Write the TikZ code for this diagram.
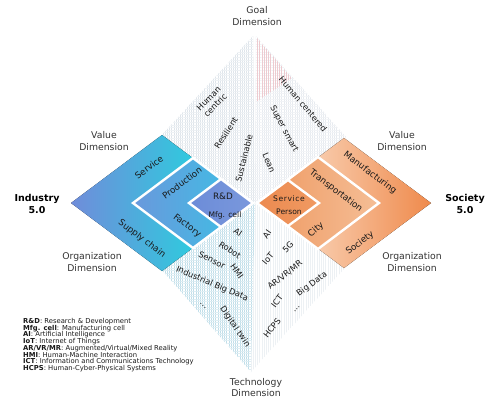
\documentclass[tikz,border=0pt]{standalone}
\usepackage{fontspec}
\setmainfont{DejaVu Sans}
\usetikzlibrary{patterns.meta}
\definecolor{hatchgray}{RGB}{175,190,205}
\definecolor{hatchblue}{RGB}{140,195,215}
\definecolor{hatchred}{RGB}{215,140,150}
\definecolor{bOutL}{RGB}{112,140,218}
\definecolor{bOutR}{RGB}{16,232,224}
\definecolor{bMidL}{RGB}{106,152,220}
\definecolor{bMidR}{RGB}{56,196,230}
\definecolor{bInL}{RGB}{108,140,216}
\definecolor{bInR}{RGB}{122,152,220}
\definecolor{oOutL}{RGB}{253,236,220}
\definecolor{oOutR}{RGB}{239,138,76}
\definecolor{oMidL}{RGB}{238,152,96}
\definecolor{oMidR}{RGB}{245,190,150}
\definecolor{oInL}{RGB}{236,138,80}
\definecolor{oInR}{RGB}{240,154,98}
\begin{document}
\begin{tikzpicture}[x=1pt,y=-1pt,
  dimlbl/.style={font=\fontsize{9.3}{11.8}\selectfont, text=black!80, inner sep=0pt, align=center},
  biglbl/.style={font=\bfseries\fontsize{9.5}{12}\selectfont, text=black, inner sep=0pt, align=center},
  shplbl/.style={font=\fontsize{8.8}{10}\selectfont, text=black!90, inner sep=0pt, align=center},
  smllbl/.style={font=\fontsize{7.6}{13}\selectfont, text=black!90, inner sep=0pt},
  techlbl/.style={font=\fontsize{8.3}{9.5}\selectfont, text=black!90, inner sep=0pt, align=center},
  hatchV/.style={pattern={Lines[angle=90,distance=2.2pt,line width=0.3pt]}, pattern color=#1},
  hatchH/.style={pattern={Lines[angle=0,distance=2.6pt,line width=0.2pt]}, pattern color=#1},
  layer/.style={draw=white, line width=2.4pt, line join=miter}
  ]
\useasboundingbox (0,0) rectangle (500,408);
% hatched background
\fill[hatchV=hatchgray!40] (253,36) -- (160,137) -- (255,205) -- cycle;
\fill[hatchH=hatchgray!22] (253,36) -- (160,137) -- (255,205) -- cycle;
\fill[hatchV=hatchgray!30] (256,36) -- (346,137) -- (255,205) -- cycle;
\fill[hatchH=hatchgray!18] (256,36) -- (346,137) -- (255,205) -- cycle;
\fill[hatchV=hatchred!45] (256,37) -- (292,78) -- (256,102) -- cycle;
\fill[hatchV=hatchblue!55] (162,270) -- (251,372) -- (255,203) -- cycle;
\fill[hatchH=hatchblue!30] (162,270) -- (251,372) -- (255,203) -- cycle;
\fill[hatchV=hatchgray!22] (345,268) -- (251,372) -- (255,203) -- cycle;
% blue chevrons
\fill[left color=bOutL, right color=bOutR] (253,203) -- (162,135) -- (71,203) -- (162,271) -- cycle;
\filldraw[layer, left color=bMidL, right color=bMidR] (253,203) -- (193,158) -- (133,203) -- (193,248) -- cycle;
\filldraw[layer, left color=bInL, right color=bInR] (253,203) -- (221,179) -- (189,203) -- (221,227) -- cycle;
% orange chevrons
\fill[left color=oOutL, right color=oOutR] (257,203) -- (344,138) -- (431,203) -- (344,268) -- cycle;
\filldraw[layer, left color=oMidL, right color=oMidR] (257,203) -- (318,157) -- (379,203) -- (318,249) -- cycle;
\filldraw[layer, left color=oInL, right color=oInR] (257,203) -- (288,180) -- (319,203) -- (288,226) -- cycle;
% dimension labels
\node[dimlbl] (goal) at (257,16) {Goal\\Dimension};
\node[dimlbl] (techdim) at (256,387.5) {Technology\\Dimension};
\node[dimlbl] (valL) at (104,141) {Value\\Dimension};
\node[dimlbl] (orgL) at (92,262) {Organization\\Dimension};
\node[dimlbl] (valR) at (402,141) {Value\\Dimension};
\node[dimlbl] (orgR) at (412,262) {Organization\\Dimension};
\node[biglbl] (ind) at (37,204) {Industry\\5.0};
\node[biglbl] (soc) at (465,204) {Society\\5.0};
% blue labels
\node[shplbl, rotate=37] (service) at (149,167) {Service};
\node[shplbl, rotate=37] (production) at (182,183) {Production};
\node[shplbl, rotate=-37] (supply) at (142,239) {Supply chain};
\node[shplbl, rotate=-37] (factory) at (187,226) {Factory};
\node[shplbl] (rd) at (223,196) {R\&D};
\node[smllbl] (mfg) at (225,215) {Mfg. cell};
% orange labels
\node[shplbl, rotate=-37] (manuf) at (370,173) {Manufacturing};
\node[shplbl, rotate=-37] (transp) at (336,191) {Transportation};
\node[smllbl, font=\fontsize{7.6}{9}\selectfont\addfontfeatures{LetterSpace=8}] (osvc) at (289,199) {Service};
\node[smllbl] (person) at (289,212) {Person};
\node[shplbl, rotate=40] (city) at (316,230) {City};
\node[shplbl, rotate=37] (society) at (360,243) {Society};
% goal labels
\node[techlbl, rotate=45] (humcentric) at (212,102) {Human\\centric};
\node[techlbl, rotate=57] (resilient) at (226,133) {Resilient};
\node[techlbl, rotate=76] (sustain) at (244,158) {Sustainable};
\node[techlbl, rotate=-50] (humcentered) at (303,104) {Human centered};
\node[techlbl, rotate=-62] (supersmart) at (284,129) {Super smart};
\node[techlbl, rotate=-67] (lean) at (269,163) {Lean};
% technology labels, industry side
\node[techlbl, rotate=-35] (ai1) at (238,232) {AI};
\node[techlbl, rotate=-33] (robot) at (230,250) {Robot};
\node[techlbl, rotate=-27] (sensor) at (212,260) {Sensor};
\node[techlbl, rotate=-55] (hmi) at (237,271) {HMI};
\node[techlbl, rotate=-23] (ibd) at (212,284) {Industrial Big Data};
\node[techlbl, rotate=-40] (dots1) at (203,306) {...};
\node[techlbl, rotate=-56] (dtwin) at (235,327) {Digital twin};
% technology labels, society side
\node[techlbl, rotate=55] (ai2) at (267,234) {AI};
\node[techlbl, rotate=45] (fiveg) at (288,247) {5G};
\node[techlbl, rotate=50] (iot) at (268,259) {IoT};
\node[techlbl, rotate=38] (arvr) at (285,275) {AR/VR/MR};
\node[techlbl, rotate=37] (bigdata) at (312,284) {Big Data};
\node[techlbl, rotate=52] (ict) at (277,301) {ICT};
\node[techlbl, rotate=52] (hcps) at (272,328) {HCPS};
\node[techlbl, rotate=45] (dots2) at (297,309) {...};
% legend
\node[anchor=north west, inner sep=0pt, align=left, text=black!90,
      font=\fontsize{6.8}{6.75}\selectfont] (legend) at (23,318)
 {\textbf{R\&D}: Research \& Development\\
  \textbf{Mfg. cell}: Manufacturing cell\\
  \textbf{AI}: Artificial Intelligence\\
  \textbf{IoT}: Internet of Things\\
  \textbf{AR/VR/MR}: Augmented/Virtual/Mixed Reality\\
  \textbf{HMI}: Human-Machine Interaction\\
  \textbf{ICT}: Information and Communications Technology\\
  \textbf{HCPS}: Human-Cyber-Physical Systems};
\end{tikzpicture}
\end{document}
